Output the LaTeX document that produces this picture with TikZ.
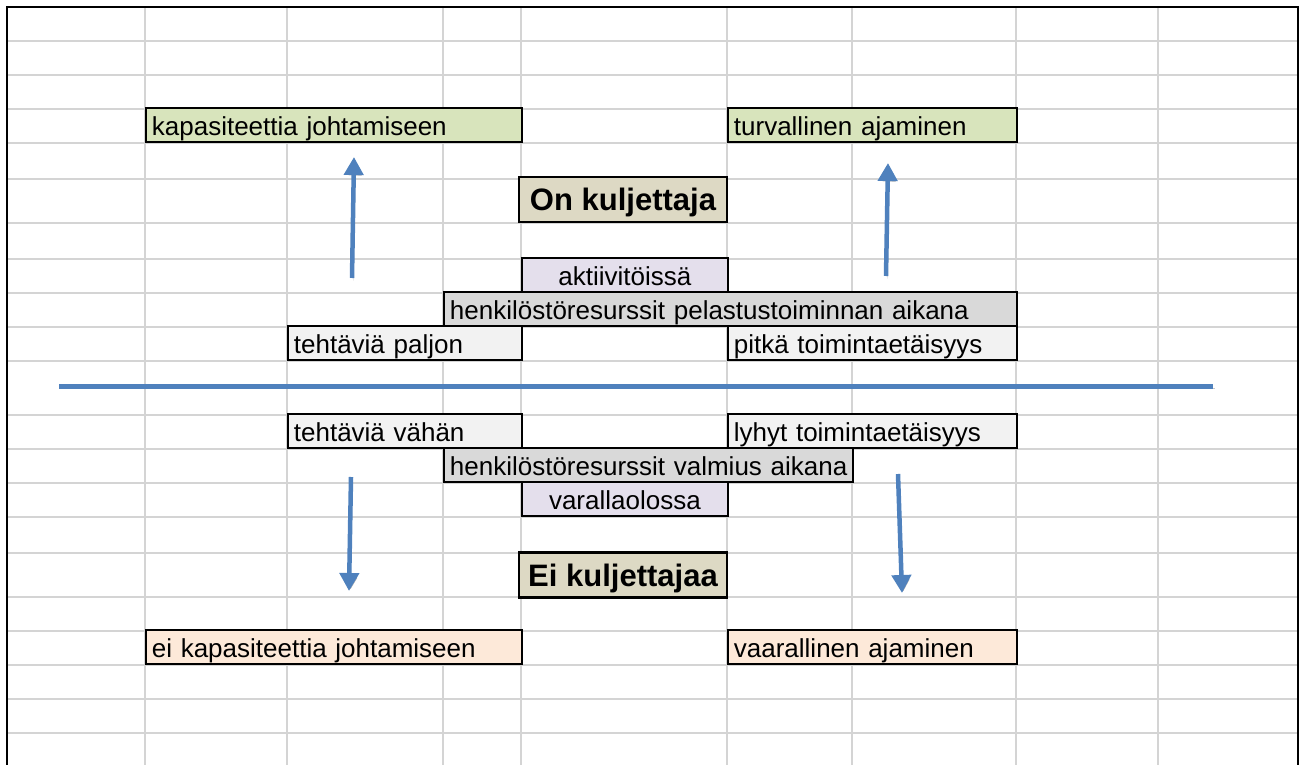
\documentclass[tikz,border=0pt]{standalone}
\usepackage{fontspec}
\setmainfont{Liberation Sans}
\usetikzlibrary{arrows.meta}
\definecolor{gridgray}{HTML}{D4D4D4}
\definecolor{goodgreen}{HTML}{D8E4BC}
\definecolor{badpeach}{HTML}{FDE9D9}
\definecolor{titletan}{HTML}{DDD9C4}
\definecolor{statelilac}{HTML}{E4DFEC}
\definecolor{resgray}{HTML}{D9D9D9}
\definecolor{taskgray}{HTML}{F2F2F2}
\definecolor{excelblue}{HTML}{4F81BD}
\tikzset{
  gridline/.style={draw=gridgray, line width=1.4pt},
  cell/.style={draw=black, line width=1.8pt, anchor=south west, inner xsep=6pt, inner ysep=0pt,
    minimum height=34pt, text height=27pt, text depth=7pt, align=left, font=\fontsize{26}{30}\selectfont},
  midcell/.style={cell, align=center},
  titlecell/.style={draw=black, line width=2.8pt, fill=titletan, minimum width=208pt, minimum height=45pt,
    inner sep=0pt, text height=22pt, text depth=0pt, font=\fontsize{31}{36}\selectfont\bfseries},
  shadowed/.style={preaction={draw=black, opacity=0.22, transform canvas={shift={(1.5pt,-2.5pt)}}}},
  flowarrow/.style={draw=excelblue, line width=4.5pt, -{Triangle[width=19pt,length=18pt]}, shadowed},
  sepline/.style={draw=excelblue, line width=5pt, shadowed}
}
\begin{document}
\begin{tikzpicture}[x=1pt,y=-1pt]
\useasboundingbox (0,0) rectangle (1301,765);
\foreach \x in {145,287,443,521,727,852,1016,1158}
  \draw[gridline] (\x,7) -- (\x,765);
\foreach \y in {41,75,109,143,179,223,259,293,327,361,415,449,483,517,553,597,631,665,699,733}
  \draw[gridline] (7,\y) -- (1298,\y);
\draw[line width=1.5pt] (7,765) -- (7,7) -- (1298,7) -- (1298,765);

\node[cell, fill=goodgreen, text width=364pt] (kapasiteetti) at (145,143) {kapasiteettia johtamiseen};
\node[cell, fill=goodgreen, text width=277pt] (turvallinen) at (727,143) {turvallinen ajaminen};
\node[titlecell] (onkulj) at (623,199.5) {On kuljettaja};
\node[midcell, fill=statelilac, text width=194pt] (aktiivi) at (521,293) {aktiivitöissä};
\node[cell, fill=resgray, text width=561pt] (henkpelastus) at (443,327) {henkilöstöresurssit pelastustoiminnan aikana};
\node[cell, fill=taskgray, text width=222pt] (paljon) at (287,361) {tehtäviä paljon};
\node[cell, fill=taskgray, text width=277pt] (pitka) at (727,361) {pitkä toimintaetäisyys};

\node[cell, fill=taskgray, text width=222pt] (vahan) at (287,449) {tehtäviä vähän};
\node[cell, fill=taskgray, text width=277pt] (lyhyt) at (727,449) {lyhyt toimintaetäisyys};
\node[cell, fill=resgray, text width=397pt] (henkvalmius) at (443,483) {\mbox{henkilöstöresurssit valmius aikana}};
\node[midcell, fill=statelilac, text width=194pt] (varalla) at (521,517) {varallaolossa};
\node[titlecell] (eikulj) at (623,575) {Ei kuljettajaa};
\node[cell, fill=badpeach, text width=364pt] (eikapasiteetti) at (145,665) {ei kapasiteettia johtamiseen};
\node[cell, fill=badpeach, text width=277pt] (vaarallinen) at (727,665) {vaarallinen ajaminen};

\coordinate (sepL) at (59,386);
\coordinate (sepR) at (1213,386);
\draw[sepline] (sepL) -- (sepR);

\coordinate (kapUp) at (352,278);
\coordinate (kapTip) at (354,157);
\coordinate (turvUp) at (886,276);
\coordinate (turvTip) at (888,163);
\coordinate (eiDown) at (351,477);
\coordinate (eiTip) at (349,591);
\coordinate (vaarDown) at (898,474);
\coordinate (vaarTip) at (902,593);
\draw[flowarrow] (kapUp) -- (kapTip);
\draw[flowarrow] (turvUp) -- (turvTip);
\draw[flowarrow] (eiDown) -- (eiTip);
\draw[flowarrow] (vaarDown) -- (vaarTip);
\end{tikzpicture}
\end{document}
